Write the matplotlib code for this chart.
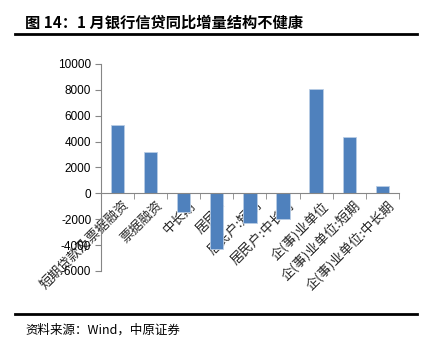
import numpy as np
import matplotlib
matplotlib.use("Agg")
import matplotlib.pyplot as plt
from matplotlib.lines import Line2D

plt.rcParams['font.family'] = ['Noto Sans CJK SC', 'DejaVu Sans']

categories = ["短期贷款及票据融资", "票据融资", "中长期", "居民户", "居民户:短期",
              "居民户:中长期", "企(事)业单位", "企(事)业单位:短期", "企(事)业单位:中长期"]
values = [5250, 3170, -1420, -4300, -2300, -2000, 8050, 4330, 570]
yticks = [-6000, -4000, -2000, 0, 2000, 4000, 6000, 8000, 10000]

fig = plt.figure(figsize=(4.27, 3.45), dpi=100)
ax = fig.add_axes([0.2365, 0.2145, 0.6975, 0.6])

x = np.arange(len(categories))
ax.bar(x, values, width=0.4, color="#4F81BD", edgecolor="#B9CDE5", linewidth=0.6, zorder=2)

ax.set_xlim(-0.5, len(categories) - 0.5)
ax.set_ylim(-6000, 10000)
ax.set_yticks(yticks)
ax.set_yticklabels([str(v) for v in yticks], fontsize=8.5, family=['Liberation Sans', 'DejaVu Sans'])

for s in ['top', 'right']:
    ax.spines[s].set_visible(False)
ax.spines['left'].set_color('#868686')
ax.spines['bottom'].set_color('#868686')
ax.spines['bottom'].set_position(('data', 0))
ax.tick_params(axis='y', direction='out', length=4, color='#868686', pad=3)

ax.set_xticks(x + 0.15)
ax.set_xticklabels(categories, rotation=45, ha='right', rotation_mode='anchor', fontsize=9.5,
                   color='#262626')
ax.tick_params(axis='x', which='major', length=0, pad=4)
ax.set_xticks(np.arange(len(categories) + 1) - 0.5, minor=True)
ax.tick_params(axis='x', which='minor', direction='out', length=4, color='#868686')

fig.text(25 / 427, 1 - 23 / 345, "图 14：1 月银行信贷同比增量结构不健康", fontsize=11,
         fontweight='bold', va='center', ha='left')
fig.add_artist(Line2D([15 / 427, 417 / 427], [1 - 33.5 / 345] * 2, color='black', linewidth=2))
fig.add_artist(Line2D([15 / 427, 417 / 427], [1 - 313.5 / 345] * 2, color='black', linewidth=2))
fig.text(25 / 427, 1 - 330 / 345, "资料来源：Wind，中原证券", fontsize=9, va='center', ha='left')

fig.savefig("out.png", dpi=100)
